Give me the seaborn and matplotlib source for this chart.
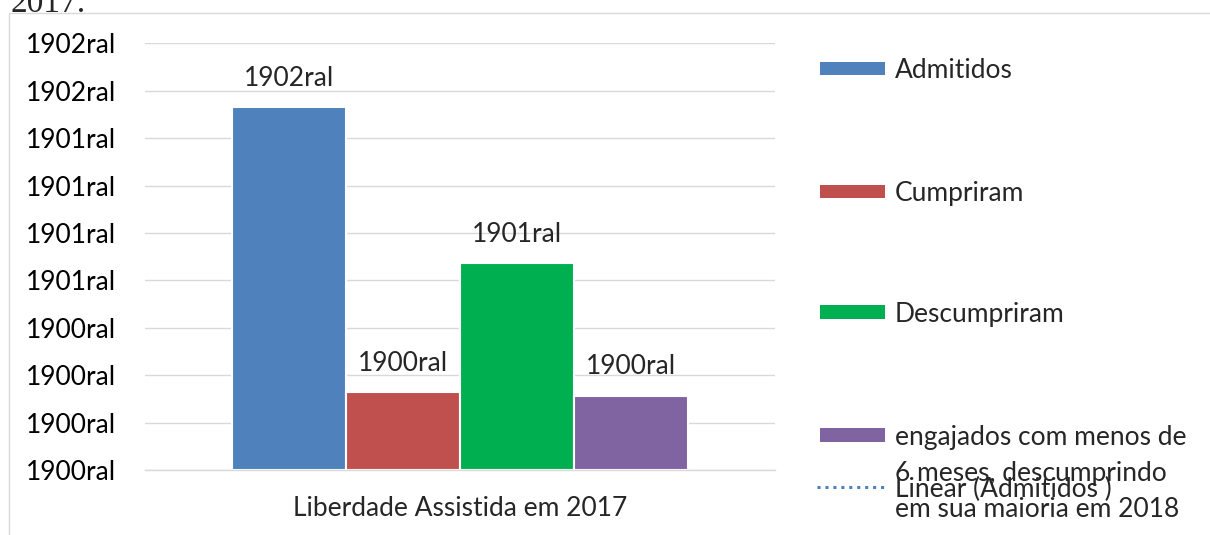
import numpy as np
import pandas as pd

import matplotlib
matplotlib.use('Agg')
import matplotlib.pyplot as plt
from matplotlib.patches import Rectangle
from matplotlib.lines import Line2D
from matplotlib.ticker import FuncFormatter, FixedLocator
import seaborn as sns

sns.set_style('white')
plt.rcParams['font.family'] = ['Lato', 'DejaVu Sans']

# ── Data ──────────────────────────────────────────────────────────────────────
CATEGORY = 'Liberdade Assistida em 2017'
SERIES   = ['Admitidos', 'Cumpriram', 'Descumpriram',
            'engajados com menos de\n6 meses, descumprindo\nem sua maioria em 2018']
VALUES   = [765, 164, 436, 156]          # Excel serial days, shown as a year
COLORS   = ['#4f81bd', '#c0504d', '#00b050', '#8064a2']
Y_TICKS  = list(range(0, 901, 100))
TREND_LABEL = 'Linear (Admitidos )'
CAPTION  = '2017.'

W, H = 1210, 535
FS   = 19
GRID = '#d9d9d9'


def excel_year(v, _pos=None):
    # the sheet formatted the numbers as dates: serial day -> year + "ral"
    day = pd.Timestamp('1899-12-31') + pd.Timedelta(days=max(float(v), 1))
    return f'{day.year}ral'


def fx(px):
    return px / W


def fy(py):
    return 1 - py / H


df = pd.DataFrame({'cat': [CATEGORY] * len(SERIES), 'serie': SERIES, 'val': VALUES})

fig = plt.figure(figsize=(W / 100, H / 100), dpi=100)
ax = fig.add_axes([fx(145), fy(470), fx(775) - fx(145), fy(43.3) - fy(470)])

sns.barplot(data=df, x='cat', y='val', hue='serie', palette=COLORS,
            width=0.725, edgecolor='white', linewidth=1.5, saturation=1,
            legend=False, ax=ax)

ax.set_xlim(-0.5, 0.5)
ax.set_ylim(Y_TICKS[0], Y_TICKS[-1])
ax.set_yticks(Y_TICKS)
ax.yaxis.set_major_formatter(FuncFormatter(excel_year))
ax.tick_params(axis='y', length=0, pad=21, labelsize=FS, labelcolor='black')
ax.tick_params(axis='x', which='major', length=0, pad=19, labelsize=FS)
ax.xaxis.set_minor_locator(FixedLocator([-0.5, 0.5]))
ax.tick_params(axis='x', which='minor', length=6, color=GRID, width=1)
ax.set_xlabel('')
ax.set_ylabel('')
ax.grid(axis='y', color=GRID, linewidth=1)
ax.set_axisbelow(True)
for side in ['left', 'right', 'top']:
    ax.spines[side].set_visible(False)
ax.spines['bottom'].set_color(GRID)
ax.spines['bottom'].set_linewidth(1)

for cont in ax.containers:
    ax.bar_label(cont, labels=[excel_year(b.get_height()) for b in cont],
                 padding=12, fontsize=FS)

# chart border (cut by the page) and caption fragment above it
fig.add_artist(Rectangle((fx(9), -0.1), 1.2, fy(13) + 0.1, fill=False,
                         edgecolor=GRID, linewidth=1, transform=fig.transFigure))
fig.text(fx(10), fy(12), CAPTION, family=['Liberation Serif', 'DejaVu Serif'],
         fontsize=24, va='baseline', ha='left')

# legend, laid out as in the sheet
legend_y = [68, 191, 312, 435]
for name, color, y in zip(SERIES, COLORS, legend_y):
    fig.add_artist(Rectangle((fx(820), fy(y + 6.5)), fx(885) - fx(820), fy(y - 6.5) - fy(y + 6.5),
                             facecolor=color, edgecolor='none', transform=fig.transFigure))
    lines = name.split('\n')
    for i, line in enumerate(lines):
        fig.text(fx(895), fy(y + i * 36), line, fontsize=FS, va='center_baseline', ha='left')

fig.add_artist(Line2D([fx(817), fx(886)], [fy(487), fy(487)], color=COLORS[0],
                      linestyle=(0, (1, 1.6)), linewidth=2.2, transform=fig.transFigure))
fig.text(fx(895), fy(487), TREND_LABEL, fontsize=FS, va='center_baseline', ha='left')

fig.savefig('out.png', dpi=100)
